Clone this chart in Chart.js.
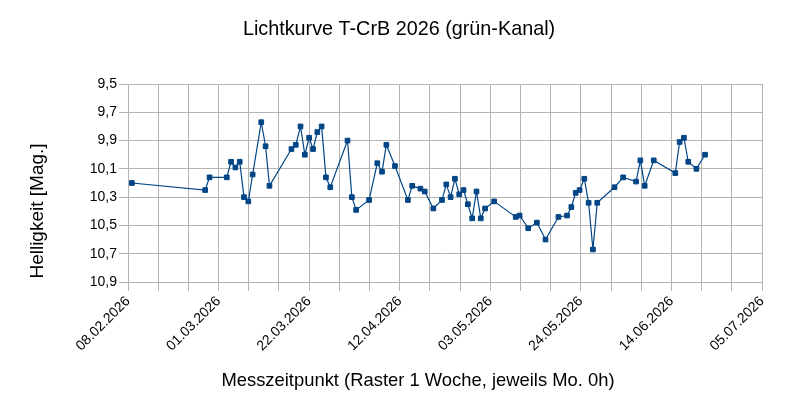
<!DOCTYPE html>
<html lang="de">
<head>
<meta charset="utf-8">
<title>Lichtkurve T-CrB 2026</title>
<script src="https://cdn.jsdelivr.net/npm/chart.js@4.4.1/dist/chart.umd.min.js"></script>
<style>
    html, body { margin: 0; padding: 0; background: #fff; }
    #wrap { width: 801px; height: 419px; position: relative; }
</style>
</head>
<body>
<div id="wrap"><canvas id="lightCurve"></canvas></div>
<script>
// Beobachtungen: Tage nach dem 08.02.2026 0h und Helligkeit in mag
const obsDays = [
    0.9, 17.9, 18.9, 22.9, 23.9, 24.9, 25.9, 26.9, 27.9, 28.9,
    30.9, 31.9, 32.8, 37.9, 38.9, 40.0, 41.0, 42.0, 42.9, 43.9,
    44.9, 45.9, 46.9, 50.9, 51.9, 52.9, 55.9, 57.8, 58.9, 59.9,
    61.9, 64.9, 65.9, 67.8, 68.8, 70.8, 72.8, 73.8, 74.8, 75.8,
    76.8, 77.8, 78.8, 79.8, 80.8, 81.8, 82.8, 84.9, 89.9, 90.8,
    92.8, 94.8, 96.8, 99.8, 101.8, 102.8, 103.8, 104.7, 105.8, 106.8,
    107.8, 108.8, 112.8, 114.8, 117.8, 118.8, 119.8, 121.9, 126.9, 127.9,
    128.9, 129.9, 131.8, 133.8
];
const magnitudes = [
    10.20, 10.25, 10.16, 10.16, 10.05, 10.09, 10.05, 10.30, 10.33, 10.14,
    9.77, 9.94, 10.22, 9.96, 9.93, 9.80, 10.00, 9.88, 9.96, 9.84,
    9.80, 10.16, 10.23, 9.90, 10.30, 10.39, 10.32, 10.06, 10.12, 9.93,
    10.08, 10.32, 10.22, 10.24, 10.26, 10.38, 10.32, 10.21, 10.30, 10.17,
    10.28, 10.25, 10.35, 10.45, 10.26, 10.45, 10.38, 10.33, 10.44, 10.43,
    10.52, 10.48, 10.60, 10.44, 10.43, 10.37, 10.27, 10.25, 10.17, 10.34,
    10.67, 10.34, 10.23, 10.16, 10.19, 10.04, 10.22, 10.04, 10.13, 9.91,
    9.88, 10.05, 10.10, 10.00
];

// Achsenbeschriftungen
const xTickLabels = ['08.02.2026', '01.03.2026', '22.03.2026', '12.04.2026',
                     '03.05.2026', '24.05.2026', '14.06.2026', '05.07.2026'];
const yTickLabels = ['9,5', '9,7', '9,9', '10,1', '10,3', '10,5', '10,7', '10,9'];

const points = obsDays.map((d, i) => ({ x: d, y: magnitudes[i] }));

const gridColor = '#b3b3b3';
const seriesColor = '#004586';
const fontFamily = '"Liberation Sans", Arial, sans-serif';

// Titel und Achsentitel wie in der LibreOffice-Vorlage (leicht versetzt) zeichnen
const chartTexts = {
    id: 'chartTexts',
    afterDraw(chart) {
        const ctx = chart.ctx;
        ctx.save();
        ctx.fillStyle = '#000';
        ctx.textAlign = 'center';
        ctx.textBaseline = 'middle';
        ctx.font = '19.8px ' + fontFamily;
        ctx.fillText('Lichtkurve T-CrB 2026 (grün-Kanal)', 399, 30);
        ctx.font = '18.4px ' + fontFamily;
        ctx.fillText('Messzeitpunkt (Raster 1 Woche, jeweils Mo. 0h)', 418, 381);
        ctx.translate(38, 211);
        ctx.rotate(-Math.PI / 2);
        ctx.font = '19px ' + fontFamily;
        ctx.fillText('Helligkeit [Mag.]', 0, 0);
        ctx.restore();
    }
};

new Chart(document.getElementById('lightCurve'), {
    type: 'line',
    data: {
        datasets: [{
            label: 'grün-Kanal',
            data: points,
            borderColor: seriesColor,
            backgroundColor: seriesColor,
            borderWidth: 1.2,
            pointStyle: 'rect',
            pointRadius: 3.3,
            pointBorderWidth: 1,
            tension: 0,
            fill: false
        }]
    },
    plugins: [chartTexts],
    options: {
        responsive: true,
        maintainAspectRatio: false,
        animation: false,
        layout: { padding: { left: 23, right: 39, top: 84, bottom: 23 } },
        plugins: {
            legend: { display: false },
            tooltip: { enabled: false },
            title: { display: false }
        },
        scales: {
            x: {
                type: 'linear',
                min: 0,
                max: 147,
                afterFit: (scale) => { scale.height = 137 - 23; },
                ticks: {
                    stepSize: 7,
                    autoSkip: false,
                    maxRotation: 45,
                    minRotation: 45,
                    padding: 2,
                    color: '#000',
                    font: { family: fontFamily, size: 14 },
                    callback: (v) => (v % 21 === 0 ? xTickLabels[v / 21] : '')
                },
                grid: { color: gridColor, lineWidth: 1, tickLength: 9 },
                border: { color: gridColor }
            },
            y: {
                reverse: true,
                min: 9.5,
                max: 10.9,
                afterFit: (scale) => { scale.width = 105; },
                ticks: {
                    stepSize: 0.2,
                    padding: 2,
                    color: '#000',
                    font: { family: fontFamily, size: 14 },
                    callback: (v) => yTickLabels[Math.round((v - 9.5) / 0.2)]
                },
                grid: { color: gridColor, lineWidth: 1, tickLength: 9 },
                border: { color: gridColor }
            }
        }
    }
});
</script>
</body>
</html>
